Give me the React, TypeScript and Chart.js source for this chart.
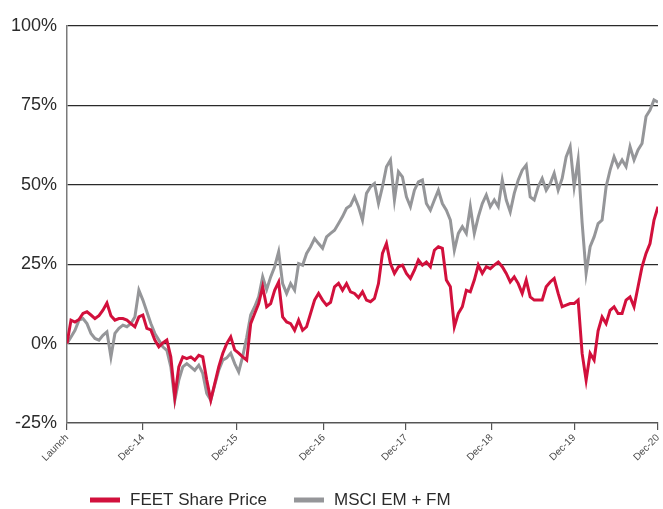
import React, { useEffect, useRef } from "react";
import { Chart, registerables } from "chart.js";

Chart.register(...registerables);

// FEET Share Price, % change since launch (one value per ~4px step of the original)
const feetSeries = [
  0, 7.4, 6.8, 7.6, 9.5, 10, 9, 7.9, 8.8, 10.5,
  12.8, 8.8, 7.4, 7.9, 7.9, 7.4, 6.3, 5.3, 8.4, 9,
  4.8, 4.3, 1.1, -1, 0.2, 1.1, -4.2, -16.8, -7.3, -4.2,
  -4.7, -4.2, -5.2, -3.7, -4.2, -11.5, -17.8, -12.6, -7.3, -3.1,
  0, 2.1, -2, -3, -4.2, -5.2, 6.3, 9.5, 12.6, 17.9,
  11.6, 12.6, 16.8, 19.4, 8.4, 6.8, 6.3, 4.2, 7.4, 4.2,
  5.3, 9.5, 13.7, 15.8, 13.7, 12.1, 13, 17.9, 19, 16.8,
  18.9, 16.3, 15.8, 14.5, 16.3, 13.7, 13.2, 14.2, 18.9, 28.4,
  31.5, 25.2, 22.1, 24.2, 24.7, 22.1, 20.5, 23.1, 26.3, 24.7,
  25.7, 24.2, 29.4, 30.5, 30, 20, 17.9, 5.3, 9.5, 11.6,
  16.8, 16.3, 20, 24.7, 22.1, 24.2, 23.6, 24.7, 25.7, 24.2,
  22.1, 19.4, 21, 18.9, 15.8, 20, 14.7, 13.7, 13.7, 13.7,
  17.9, 19.4, 20.5, 15.8, 11.6, 12.1, 12.6, 12.6, 13.7, -3.1,
  -11.5, -3.1, -5.2, 4, 8.4, 6.3, 10.5, 11.6, 9.5, 9.5,
  13.7, 14.7, 11.6, 17.9, 24.2, 28.4, 31.5, 38.9, 43.1,
];

// MSCI EM + FM, % change since launch
const msciSeries = [
  0, 2.1, 4.2, 7.4, 7.9, 6.3, 3.2, 1.6, 1.1, 2.6,
  3.7, -4.2, 3.2, 4.8, 5.8, 5.3, 6.3, 8.4, 16.8, 13.7,
  10, 6.3, 3.2, 1.1, -1, -2.1, -7.3, -17.8, -11.5, -7.3,
  -6.3, -7.3, -8.4, -6.8, -9.4, -15.7, -17.8, -13, -8.4, -5.2,
  -4.5, -3, -6.3, -8.9, -4, 2, 9, 11.6, 14.7, 21,
  17, 21, 24.2, 28.9, 18.9, 15.8, 18.9, 16.8, 25.2, 24.7,
  28.4, 30.5, 33.1, 31.5, 30, 33.6, 34.7, 35.7, 37.8, 40,
  42.6, 43.5, 46.2, 43.1, 38.9, 47.3, 49.4, 50.4, 44.1, 49.4,
  55.7, 57.8, 45.2, 54.1, 52.5, 46.2, 43.1, 48.3, 50.9, 51.5,
  44.1, 42, 45.2, 48.3, 44.1, 42, 38.9, 29.4, 34.7, 36.8,
  34.7, 43.1, 34.7, 39.9, 44.1, 46.8, 43.1, 45.2, 43.1, 51.5,
  45.2, 41.5, 47.3, 51.5, 54.6, 56.2, 46.2, 45.2, 49.4, 52,
  48.3, 50.4, 53.6, 48.3, 52, 58.8, 62, 49.4, 57.8, 38,
  22.1, 30.5, 33.6, 37.8, 38.9, 49.4, 54.6, 58.8, 55.7, 57.8,
  55.7, 62, 57.8, 61, 63, 71.5, 73.5, 76.7, 76,
];

const xTickLabels = ["Launch", "Dec-14", "Dec-15", "Dec-16", "Dec-17", "Dec-18", "Dec-19", "Dec-20"];
const xTickPositions = [0, 19, 42.4, 64.3, 84.9, 106.3, 127, 148];
const seriesNames = ["FEET Share Price", "MSCI EM + FM"];
const seriesColors = ["#d2103c", "#959699"];
const yMin = -25;
const yMax = 100;
const yStep = 25;

const FONT = "'Liberation Sans', Arial, sans-serif";

export default function App() {
  const canvasRef = useRef<HTMLCanvasElement | null>(null);

  useEffect(() => {
    document.body.style.margin = "0";
    const canvas = canvasRef.current;
    if (!canvas) return;

    const legendPlugin = {
      id: "bottomLegend",
      afterDraw(chart: any) {
        const c = chart.ctx;
        c.save();
        c.font = `17px ${FONT}`;
        c.textBaseline = "middle";
        c.textAlign = "left";
        let x = chart.chartArea.left + 23;
        const y = chart.height - 9;
        chart.data.datasets.forEach((ds: any) => {
          c.fillStyle = ds.borderColor;
          c.fillRect(x, y - 2.5, 30, 5);
          x += 30 + 10;
          c.fillStyle = "#2b2b2b";
          c.fillText(ds.label, x, y);
          x += c.measureText(ds.label).width + 27;
        });
        c.restore();
      },
    };

    const makeData = (arr: number[]) => arr.map((v, i) => ({ x: i, y: v }));

    const chart = new Chart(canvas, {
      type: "line",
      data: {
        datasets: [
          {
            label: seriesNames[0],
            data: makeData(feetSeries),
            borderColor: seriesColors[0],
            backgroundColor: seriesColors[0],
            borderWidth: 3,
            pointRadius: 0,
            tension: 0,
          },
          {
            label: seriesNames[1],
            data: makeData(msciSeries),
            borderColor: seriesColors[1],
            backgroundColor: seriesColors[1],
            borderWidth: 3,
            pointRadius: 0,
            tension: 0,
          },
        ],
      },
      options: {
        animation: false,
        responsive: false,
        layout: { padding: { top: 26, right: 5, left: 0, bottom: 0 } },
        plugins: {
          legend: { display: false },
          tooltip: { enabled: false },
        },
        scales: {
          x: {
            type: "linear",
            min: 0,
            max: feetSeries.length - 1,
            afterFit: (scale: any) => {
              scale.height = 86;
              scale.paddingRight = 0;
              scale.paddingLeft = 0;
            },
            afterBuildTicks: (scale: any) => {
              scale.ticks = xTickPositions.map((v) => ({ value: v }));
            },
            ticks: {
              autoSkip: false,
              maxRotation: 45,
              minRotation: 45,
              padding: 2,
              color: "#4a4a4a",
              font: { family: FONT, size: 10 },
              callback: (v: any) => {
                const idx = xTickPositions.indexOf(Number(v));
                return idx >= 0 ? xTickLabels[idx] : "";
              },
            },
            grid: {
              display: true,
              drawOnChartArea: false,
              drawTicks: true,
              tickLength: 7,
              color: "#555555",
              lineWidth: 1.2,
            },
            border: { display: true, color: "#555555", width: 1.2 },
          },
          y: {
            min: yMin,
            max: yMax,
            afterFit: (scale: any) => {
              scale.width = 67;
              scale.paddingTop = 0;
              scale.paddingBottom = 0;
            },
            ticks: {
              stepSize: yStep,
              padding: 10,
              color: "#2b2b2b",
              font: { family: FONT, size: 18 },
              callback: (v: any) => `${v}%`,
            },
            grid: {
              color: "#2a2a2a",
              lineWidth: 1.2,
              drawTicks: false,
            },
            border: { display: true, color: "#7a7a7a", width: 1.5 },
          },
        },
      },
      plugins: [legendPlugin],
    } as any);

    return () => {
      chart.destroy();
    };
  }, []);

  return (
    <div style={{ width: 663, height: 509 }}>
      <canvas ref={canvasRef} width={663} height={509} />
    </div>
  );
}
